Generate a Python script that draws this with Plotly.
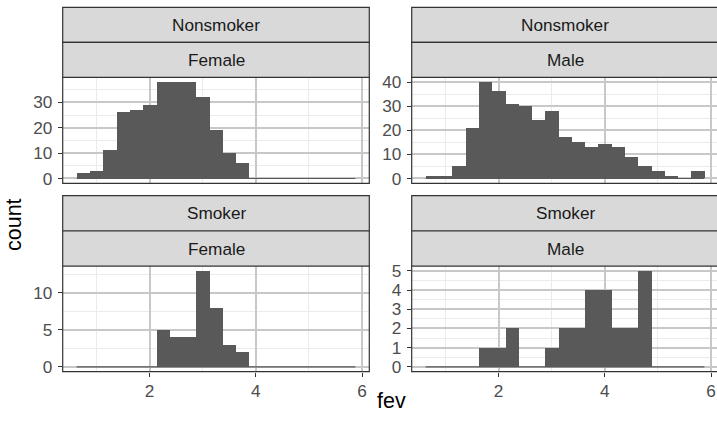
import plotly.graph_objects as go

# ---- data ----
bin_width = 0.25
bin_centers = [0.75 + 0.25 * i for i in range(21)]
nonsmoker_female = [2, 3, 11, 26, 27, 29, 38, 38, 38, 32, 19, 10, 6, 0, 0, 0, 0, 0, 0, 0, 0]
nonsmoker_male = [1, 1, 5, 21, 40, 36, 31, 30, 24, 28, 17, 15, 13, 14, 13, 9, 5, 3, 1, 0, 3]
smoker_female = [0, 0, 0, 0, 0, 0, 5, 4, 4, 13, 8, 3, 2, 0, 0, 0, 0, 0, 0, 0, 0]
smoker_male = [0, 0, 0, 0, 1, 1, 2, 0, 0, 1, 2, 2, 4, 4, 2, 2, 5, 0, 0, 0, 0]
row_labels = ["Nonsmoker", "Smoker"]
col_labels = ["Female", "Male"]
x_ticks = [2, 4, 6]

W, H = 717, 423
def px(x):
    return x / W
def py(y):
    return 1 - y / H

BAR = "#595959"
MAJOR = "#C8C8C8"
MINOR = "#EBEBEB"
BORDER = "#333333"
FONT = "Liberation Sans, Arial, sans-serif"
SMALL = 17.2
BIG = 21.5

# panel geometry in pixels
col_x = [(62.7, 369.3), (411.7, 718.3)]
row_strip = [(7.3, 42.3, 77.3), (195.7, 231.0, 266.0)]
row_panel = [(77.3, 183.3), (266.0, 371.7)]

lo = bin_centers[0] - bin_width / 2
hi = bin_centers[-1] + bin_width / 2
pad = 0.05 * (hi - lo)
xr = [lo - pad, hi + pad]
ppu = (col_x[0][1] - col_x[0][0]) / (xr[1] - xr[0])

panels = [
    (0, 0, nonsmoker_female, 10, 5),
    (0, 1, nonsmoker_male, 10, 5),
    (1, 0, smoker_female, 5, 2.5),
    (1, 1, smoker_male, 1, 0.5),
]

fig = go.Figure()
layout = dict(
    template="none",
    width=W, height=H, margin=dict(l=0, r=0, t=0, b=0),
    paper_bgcolor="white", plot_bgcolor="white", showlegend=False,
    font=dict(family=FONT, color="#4D4D4D"),
)
shapes = []
annotations = []

for k, (r, c, counts, dt, mdt) in enumerate(panels):
    idx = "" if k == 0 else str(k + 1)
    xa, ya = "x" + idx, "y" + idx
    x0p, x1p = col_x[c]
    dom_x1 = min(x1p, W)
    xrange = [xr[0], xr[0] + (dom_x1 - x0p) / ppu]
    ymax = max(counts)
    yr = [-0.05 * ymax, ymax * 1.05]
    y0p, y1p = row_panel[r]

    fig.add_trace(go.Scatter(x=[lo, hi], y=[0, 0], mode="lines",
                             line=dict(color=BAR, width=1.2), xaxis=xa, yaxis=ya,
                             hoverinfo="skip"))
    fig.add_trace(go.Bar(x=bin_centers, y=counts, width=bin_width,
                         marker=dict(color=BAR, line=dict(width=0)),
                         xaxis=xa, yaxis=ya))

    bottom = (r == 1)
    layout["xaxis" + idx] = dict(
        domain=[px(x0p), px(dom_x1)], anchor=ya, range=xrange,
        tickmode="array", tickvals=x_ticks, showticklabels=bottom,
        ticks="outside" if bottom else "", ticklen=4, tickwidth=1, tickcolor=BORDER,
        tickfont=dict(size=SMALL, color="#4D4D4D", family=FONT),
        showgrid=True, gridcolor=MAJOR, gridwidth=2, zeroline=False,
        minor=dict(dtick=1, tick0=0, showgrid=True, gridcolor=MINOR, gridwidth=1),
        showline=False, fixedrange=True, ticklabelstandoff=0,
    )
    layout["yaxis" + idx] = dict(
        domain=[py(y1p), py(y0p)], anchor=xa, range=yr,
        tickmode="linear", dtick=dt, tick0=0, ticks="outside", ticklen=4, tickwidth=1,
        tickcolor=BORDER,
        tickfont=dict(size=SMALL, color="#4D4D4D", family=FONT),
        showgrid=True, gridcolor=MAJOR, gridwidth=2, zeroline=False,
        minor=dict(dtick=mdt, tick0=0, showgrid=True, gridcolor=MINOR, gridwidth=1),
        showline=False, fixedrange=True, ticklabelstandoff=2,
    )

    # panel border
    shapes.append(dict(type="rect", xref="paper", yref="paper",
                       x0=px(x0p), x1=px(x1p), y0=py(y1p), y1=py(y0p),
                       line=dict(color=BORDER, width=1.2), fillcolor="rgba(0,0,0,0)",
                       layer="above"))
    # strips
    s0, s1, s2 = row_strip[r]
    for (a, b, label) in [(s0, s1, row_labels[r]), (s1, s2, col_labels[c])]:
        shapes.append(dict(type="rect", xref="paper", yref="paper",
                           x0=px(x0p), x1=px(x1p), y0=py(b), y1=py(a),
                           line=dict(color=BORDER, width=1.2), fillcolor="#D9D9D9",
                           layer="above"))
        annotations.append(dict(xref="paper", yref="paper",
                                x=px((x0p + x1p) / 2), y=py((a + b) / 2),
                                text=label, showarrow=False,
                                font=dict(size=SMALL, color="#1A1A1A", family=FONT),
                                xanchor="center", yanchor="middle"))

annotations.append(dict(xref="paper", yref="paper", x=px(391), y=py(401),
                        text="fev", showarrow=False,
                        font=dict(size=BIG, color="black", family=FONT),
                        xanchor="center", yanchor="middle"))
annotations.append(dict(xref="paper", yref="paper", x=px(14), y=py(225),
                        text="count", showarrow=False, textangle=-90,
                        font=dict(size=BIG, color="black", family=FONT),
                        xanchor="center", yanchor="middle"))

layout["shapes"] = shapes
layout["annotations"] = annotations
layout["bargap"] = 0
fig.update_layout(**layout)
fig.write_html("out.html")
